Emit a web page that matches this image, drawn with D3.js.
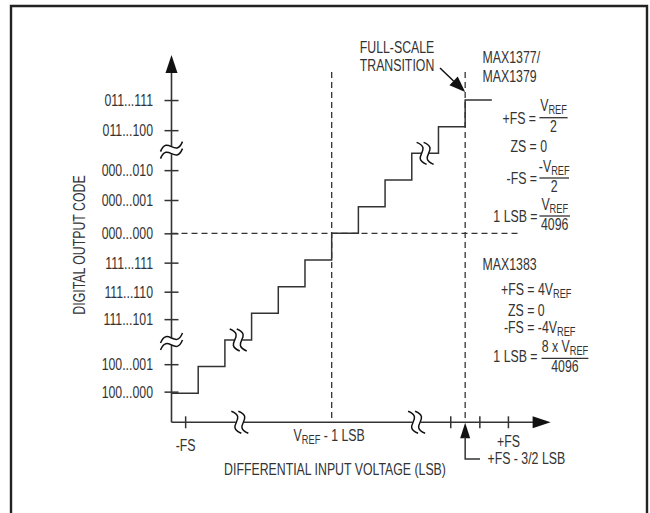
<!DOCTYPE html>
<html><head><meta charset="utf-8">
<script src="https://cdn.jsdelivr.net/npm/d3@7"></script>
<style>
body{margin:0;background:#fff}
text{font-family:"Liberation Sans",Arial,sans-serif;fill:#333;font-size:16px}
</style>
</head><body>
<svg id="c" width="650" height="513"></svg>
<script>
// ---- data ----
const codeLabels = ["100...000","100...001","111...101","111...110","111...111","000...000","000...001","000...010","011...100","011...111"];
const codeValues = [-5.94, -4.91, -3.22, -2.19, -1.10, 0, 1.25, 2.37, 3.87, 5.0];
const stepEdges  = [0,1,2,3,4,5,6,7,8,9,10,11,12];
const stepLevels = [-6,-5,-4,-3,-2,-1,0,1,2,3,4,5,5];
const xTickValues = [0.53, 10.46, 11.55, 12.62];
const xTickLabels = ["-FS", "", "", "+FS"];
const refLineX = 6;        // VREF - 1 LSB
const fsTransitionX = 11;  // +FS - 3/2 LSB
const axisBreaksX = [2.56, 9.18];
const axisBreaksY = [3.12, -4.06];
const stairBreaks = [[2.5, -4], [9.5, 3]];

// ---- setup ----
const K = 0.77; // horizontal condensing of the lettering
const svg = d3.select("#c");
const ink = "#333";
const x = d3.scaleLinear().domain([0, 14.2]).range([171.5, 550.6]);
const y = d3.scaleLinear().domain([-7.09, 6.69]).range([422.3, 55]);
const X0 = x(0), Y0 = y(-7.09);

// rich text helper: parts = [[str, isSub], ...]
function txt(xp, yp, parts, anchor, extra){
  if (typeof parts === "string") parts = [[parts]];
  const t = svg.append("text")
    .attr("transform", `translate(${xp},${yp})${extra||""} scale(${K},1)`)
    .attr("text-anchor", anchor||"start");
  let shift = 0;
  parts.forEach(p=>{
    const s = p[1] ? 3 : 0;
    const ts = t.append("tspan").text(p[0]);
    if (s-shift) ts.attr("dy", s-shift);
    if (p[1]) ts.attr("font-size", 12);
    shift = s;
  });
  return t;
}

// frame (open at bottom)
svg.append("path").attr("d", "M11,513 V6 H647 V513").attr("fill","none").attr("stroke","#222").attr("stroke-width",2.4);

// dashed guides
const dash = "6,4";
svg.append("line").attr("x1", x(refLineX)).attr("x2", x(refLineX)).attr("y1", 72).attr("y2", Y0)
  .attr("stroke", ink).attr("stroke-width",1.3).attr("stroke-dasharray", dash);
svg.append("line").attr("x1", x(fsTransitionX)).attr("x2", x(fsTransitionX)).attr("y1", 72).attr("y2", Y0)
  .attr("stroke", ink).attr("stroke-width",1.3).attr("stroke-dasharray", dash);
svg.append("line").attr("x1", X0).attr("x2", 519.5).attr("y1", y(0)).attr("y2", y(0))
  .attr("stroke", ink).attr("stroke-width",1.3).attr("stroke-dasharray", dash);

// staircase
const stairs = stepEdges.map((e,i)=>[e, stepLevels[i]]);
svg.append("path").datum(stairs)
  .attr("d", d3.line().x(d=>x(d[0])).y(d=>y(d[1])).curve(d3.curveStepAfter))
  .attr("fill","none").attr("stroke", ink).attr("stroke-width",1.5);

// axes lines
svg.append("line").attr("x1", X0).attr("x2", X0).attr("y1", y.range()[1]+10).attr("y2", Y0)
  .attr("stroke", ink).attr("stroke-width",1.6);
svg.append("line").attr("x1", X0).attr("x2", x.range()[1]-10).attr("y1", Y0).attr("y2", Y0)
  .attr("stroke", ink).attr("stroke-width",1.6);
const tipY = y.range()[1], tipX = x.range()[1];
svg.append("path").attr("d", `M${X0},${tipY} L${X0-6},${tipY+18} L${X0+6},${tipY+18} Z`).attr("fill","#111");
svg.append("path").attr("d", `M${tipX},${Y0} L${tipX-18},${Y0-6} L${tipX-18},${Y0+6} Z`).attr("fill","#111");

// y axis ticks + labels
const yAxis = d3.axisLeft(y).tickValues(codeValues).tickSize(14).tickPadding(11.5)
  .tickFormat((d,i)=>codeLabels[i]);
const gy = svg.append("g").attr("transform", `translate(${X0+7},0)`).call(yAxis);
gy.select(".domain").remove();
gy.selectAll(".tick line").attr("stroke", ink).attr("stroke-width",1.5);
gy.selectAll(".tick text").each(function(){
  const t = d3.select(this);
  const xx = +t.attr("x");
  t.attr("x", null).attr("dy", "0.35em").attr("font-size",16).attr("font-family", null).attr("fill", ink)
   .attr("transform", `translate(${xx},0) scale(${K},1)`);
});

// x axis ticks
svg.selectAll(".xt").data(xTickValues).join("line")
  .attr("x1", d=>x(d)).attr("x2", d=>x(d)).attr("y1", Y0-6).attr("y2", Y0+6)
  .attr("stroke", ink).attr("stroke-width",1.5);

// x labels
txt(x(xTickValues[0]), 450.5, xTickLabels[0], "middle");
txt(x(xTickValues[3]), 447, xTickLabels[3], "middle");
txt(x(refLineX)-2.5, 441, [["V"],["REF",1],[" - 1 LSB"]], "middle");

// +FS - 3/2 LSB marker
const fx = x(fsTransitionX);
svg.append("path").attr("d", `M${fx},${Y0+0.5} L${fx-5},${Y0+16} L${fx+5},${Y0+16} Z`).attr("fill","#111");
svg.append("path").attr("d", `M${fx},${Y0+15} V459 H480`).attr("fill","none").attr("stroke",ink).attr("stroke-width",1.5);
txt(487.5, 463.5, "+FS - 3/2 LSB");

// axis titles
txt(335, 474.5, "DIFFERENTIAL INPUT VOLTAGE (LSB)", "middle");
txt(85, 245, "DIGITAL OUTPUT CODE", "middle", " rotate(-90)");

// squiggles
function breakAcrossVertical(cx, cy){
  const c = dy => `M${cx-11},${cy+dy+5} C${cx-4},${cy+dy-12} ${cx+4},${cy+dy+12} ${cx+11},${cy+dy-5}`;
  const g = svg.append("g");
  g.append("rect").attr("x", cx-4).attr("y", cy-4).attr("width",8).attr("height",8).attr("fill","#fff");
  [-3.5, 3.5].forEach(dy=>g.append("path").attr("d", c(dy)).attr("fill","none").attr("stroke","#111").attr("stroke-width",1.5));
}
function breakAcrossHorizontal(cx, cy){
  const c = dx => `M${cx+dx-5},${cy-11} C${cx+dx+12},${cy-4} ${cx+dx-12},${cy+4} ${cx+dx+5},${cy+11}`;
  const g = svg.append("g");
  g.append("rect").attr("x", cx-4).attr("y", cy-4).attr("width",8).attr("height",8).attr("fill","#fff");
  [-3.5, 3.5].forEach(dx=>g.append("path").attr("d", c(dx)).attr("fill","none").attr("stroke","#111").attr("stroke-width",1.5));
}
axisBreaksY.forEach(v=>breakAcrossVertical(X0, y(v)));
axisBreaksX.forEach(v=>breakAcrossHorizontal(x(v), Y0));
stairBreaks.forEach(p=>breakAcrossHorizontal(x(p[0]), y(p[1])));

// FULL-SCALE TRANSITION
txt(397, 52.7, "FULL-SCALE", "middle");
txt(397, 71, "TRANSITION", "middle");
{
  const tx = fx, ty = 92, sx = 440, sy = 68;
  const L = Math.hypot(tx-sx, ty-sy), ux=(tx-sx)/L, uy=(ty-sy)/L;
  const bx = tx-ux*16, by = ty-uy*16;
  svg.append("line").attr("x1",sx).attr("y1",sy).attr("x2",bx).attr("y2",by).attr("stroke","#111").attr("stroke-width",1.5);
  svg.append("path").attr("d", `M${tx},${ty} L${bx-uy*6},${by+ux*6} L${bx+uy*6},${by-ux*6} Z`).attr("fill","#111");
}

function fraction(x1, x2, lineY, num, den){
  const cxm = (x1+x2)/2;
  txt(cxm, lineY-6.5, num, "middle");
  svg.append("line").attr("x1",x1).attr("x2",x2).attr("y1",lineY).attr("y2",lineY).attr("stroke",ink).attr("stroke-width",1.3);
  txt(cxm, lineY+14, den, "middle");
}

// MAX1377/MAX1379 block
txt(482.6, 63, "MAX1377/");
txt(482.6, 82, "MAX1379");
txt(536, 123.5, "+FS =", "end");
fraction(539.4, 567.6, 117.7, [["V"],["REF",1]], [["2"]]);
txt(547, 152, "ZS = 0", "end");
txt(537, 184, "-FS =", "end");
fraction(539.4, 569, 178, [["-V"],["REF",1]], [["2"]]);
txt(537.5, 221.7, "1 LSB =", "end");
fraction(539.4, 570, 216, [["V"],["REF",1]], [["4096"]]);

// MAX1383 block
txt(482.6, 270, "MAX1383");
txt(501, 295, [["+FS = 4V"],["REF",1]]);
txt(508, 316, "ZS = 0");
txt(504, 333, [["-FS = -4V"],["REF",1]]);
txt(537.5, 362, "1 LSB =", "end");
fraction(541.5, 588.4, 358.3, [["8 x V"],["REF",1]], [["4096"]]);
</script>
</body></html>
